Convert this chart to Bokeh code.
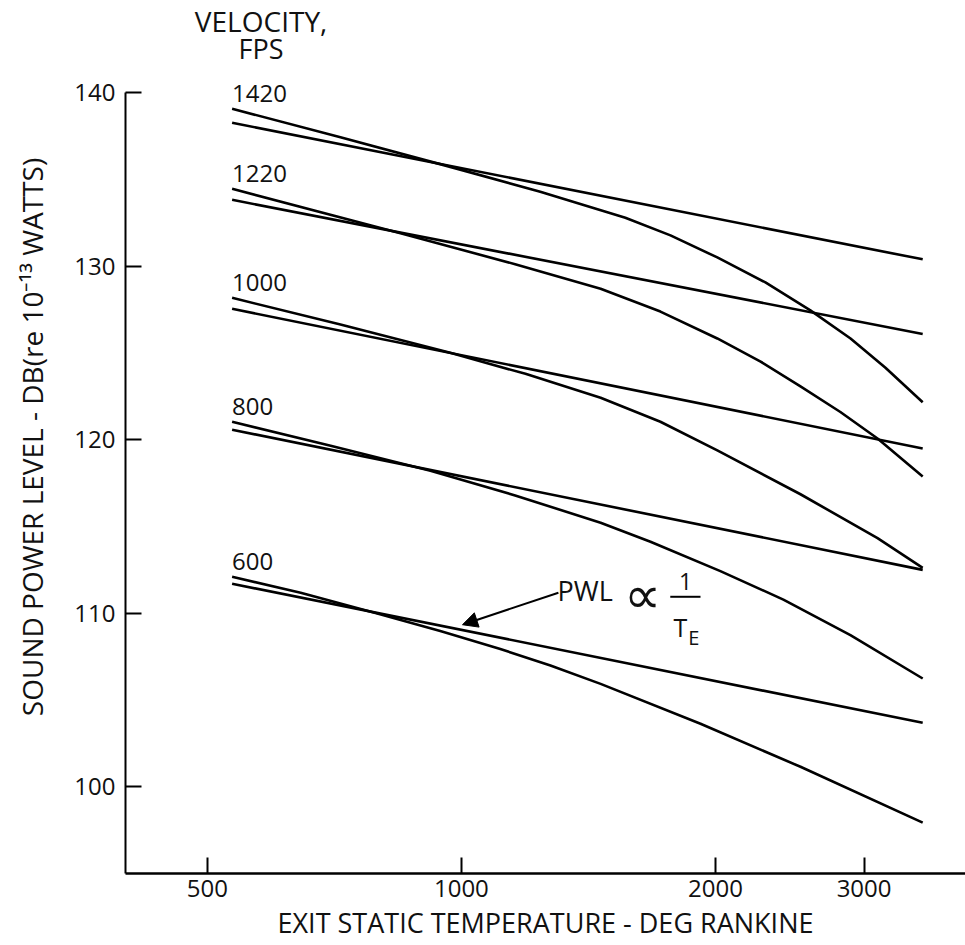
from bokeh.plotting import figure
from bokeh.models import Range1d, FixedTicker, Label, Arrow, NormalHead, NumeralTickFormatter
from bokeh.embed import file_html
from bokeh.resources import INLINE
from bokeh.core.properties import value

FONT = "Open Sans"
INK = "#111111"

# ---------------- data ----------------
velocities = [1420, 1220, 1000, 800, 600]

# straight lines: PWL proportional to 1/T_E
straight_T = [535, 3520]
straight_start = [138.27, 133.83, 127.55, 120.58, 111.70]
straight_end = [130.40, 126.10, 119.50, 112.50, 103.69]

# curved lines (exit static temperature, deg R  /  dB)
curve_T_1420 = [535, 719, 970, 1240, 1564, 1769, 2010, 2292, 2591, 2891, 3180, 3520]
curve_db_1420 = [139.08, 137.44, 135.73, 134.29, 132.80, 131.78, 130.51, 129.07, 127.46, 125.84, 124.15, 122.16]

curve_T_1220 = [535, 847, 1158, 1462, 1721, 2010, 2262, 2522, 2812, 3112, 3520]
curve_db_1220 = [134.47, 131.90, 130.12, 128.70, 127.39, 125.84, 124.51, 123.08, 121.60, 120.07, 117.88]

curve_T_1000 = [535, 719, 970, 1191, 1462, 1721, 2010, 2522, 3112, 3520]
curve_db_1000 = [128.18, 126.64, 125.01, 123.80, 122.42, 121.04, 119.39, 116.86, 114.33, 112.62]

curve_T_800 = [535, 700, 919, 1158, 1462, 1675, 2027, 2407, 2890, 3520]
curve_db_800 = [121.04, 119.65, 118.21, 116.79, 115.22, 114.12, 112.43, 110.79, 108.74, 106.24]

curve_T_600 = [535, 645, 795, 944, 1112, 1275, 1462, 1920, 2522, 3520]
curve_db_600 = [112.10, 111.18, 109.99, 108.98, 107.94, 106.99, 105.93, 103.63, 101.15, 97.93]

curves_T = [curve_T_1420, curve_T_1220, curve_T_1000, curve_T_800, curve_T_600]
curves_db = [curve_db_1420, curve_db_1220, curve_db_1000, curve_db_800, curve_db_600]

x_ticks = [500, 1000, 2000, 3000]
y_ticks = [100, 110, 120, 130, 140]

# ---------------- figure ----------------
p = figure(
    x_axis_type="log",
    x_range=Range1d(400, 3956),
    y_range=Range1d(95, 145.32),
    width=965, height=945,
    frame_width=840, frame_height=873,
    min_border_left=125, min_border_right=0, min_border_top=0, min_border_bottom=72,
    output_backend="svg", toolbar_location=None,
)
p.outline_line_color = None
p.xgrid.visible = False
p.ygrid.visible = False
p.background_fill_color = "white"
p.border_fill_color = "white"

# x axis
xa = p.xaxis[0]
xa.ticker = FixedTicker(ticks=x_ticks, minor_ticks=[])
xa.formatter = NumeralTickFormatter(format="0")
xa.major_tick_in = 16
xa.major_tick_out = 0
xa.minor_tick_line_color = None
xa.axis_line_width = 2.5
xa.axis_line_color = "black"
xa.major_tick_line_width = 2
xa.major_tick_line_color = "black"
xa.major_label_text_font = FONT
xa.major_label_text_font_size = "24px"
xa.major_label_text_color = INK
xa.major_label_standoff = 6
xa.axis_label = "EXIT STATIC TEMPERATURE - DEG RANKINE"
xa.axis_label_text_font = FONT
xa.axis_label_text_font_size = "27px"
xa.axis_label_text_font_style = "normal"
xa.axis_label_text_color = INK
xa.axis_label_standoff = 4

# y axis
ya = p.yaxis[0]
ya.ticker = FixedTicker(ticks=y_ticks, minor_ticks=[])
ya.bounds = (95, 140)
ya.major_tick_in = 16
ya.major_tick_out = 0
ya.minor_tick_line_color = None
ya.axis_line_width = 2
ya.axis_line_color = "black"
ya.major_tick_line_width = 2
ya.major_tick_line_color = "black"
ya.major_label_text_font = FONT
ya.major_label_text_font_size = "24px"
ya.major_label_text_color = INK
ya.major_label_standoff = 10
ya.axis_label = "SOUND POWER LEVEL - DB(re 10\u207b\u00b9\u00b3 WATTS)"
ya.axis_label_text_font = FONT
ya.axis_label_text_font_size = "28px"
ya.axis_label_text_font_style = "normal"
ya.axis_label_text_color = INK
ya.axis_label_standoff = 20

# lines
for v, s0, s1, cT, cdb in zip(velocities, straight_start, straight_end, curves_T, curves_db):
    p.line(straight_T, [s0, s1], line_color="black", line_width=2.6)
    p.line(cT, cdb, line_color="black", line_width=2.6, line_join="round")

# velocity labels above each pair of lines
p.text(
    x=[c[0] for c in curves_T],
    y=[c[0] for c in curves_db],
    text=[str(v) for v in velocities],
    text_font=value(FONT), text_font_size="24px", text_color=INK,
    text_align="left", text_baseline="bottom", y_offset=-7,
)

# header
p.add_layout(Label(x=579, y=144.15, text="VELOCITY,", text_align="center", text_baseline="middle",
                   text_font=FONT, text_font_size="28px", text_color=INK))
p.add_layout(Label(x=579, y=142.55, text="FPS", text_align="center", text_baseline="middle",
                   text_font=FONT, text_font_size="27px", text_color=INK))

# PWL annotation
p.add_layout(Arrow(end=NormalHead(size=15, fill_color="black", line_color="black"),
                   x_start=1303, y_start=111.18, x_end=1003, y_end=109.34,
                   line_width=2, line_color="black"))
p.add_layout(Label(x=1300, y=111.3, text="PWL", text_align="left", text_baseline="middle",
                   text_font=FONT, text_font_size="27px", text_color=INK))
p.add_layout(Label(x=1639, y=111.05, text="\u221d", text_align="center", text_baseline="middle",
                   text_font="DejaVu Sans", text_font_size="52px", text_color=INK))
p.add_layout(Label(x=1843, y=111.85, text="1", text_align="center", text_baseline="middle",
                   text_font=FONT, text_font_size="23px", text_color=INK))
p.add_layout(Arrow(start=None, end=None, x_start=1768, y_start=110.95, x_end=1920, y_end=110.95,
                   line_width=2, line_color="black"))
p.add_layout(Label(x=1818, y=109.2, text="T", text_align="center", text_baseline="middle",
                   text_font=FONT, text_font_size="25px", text_color=INK))
p.add_layout(Label(x=1885, y=108.6, text="E", text_align="center", text_baseline="middle",
                   text_font=FONT, text_font_size="20px", text_color=INK))

open("out.html", "w").write(file_html(p, INLINE))
